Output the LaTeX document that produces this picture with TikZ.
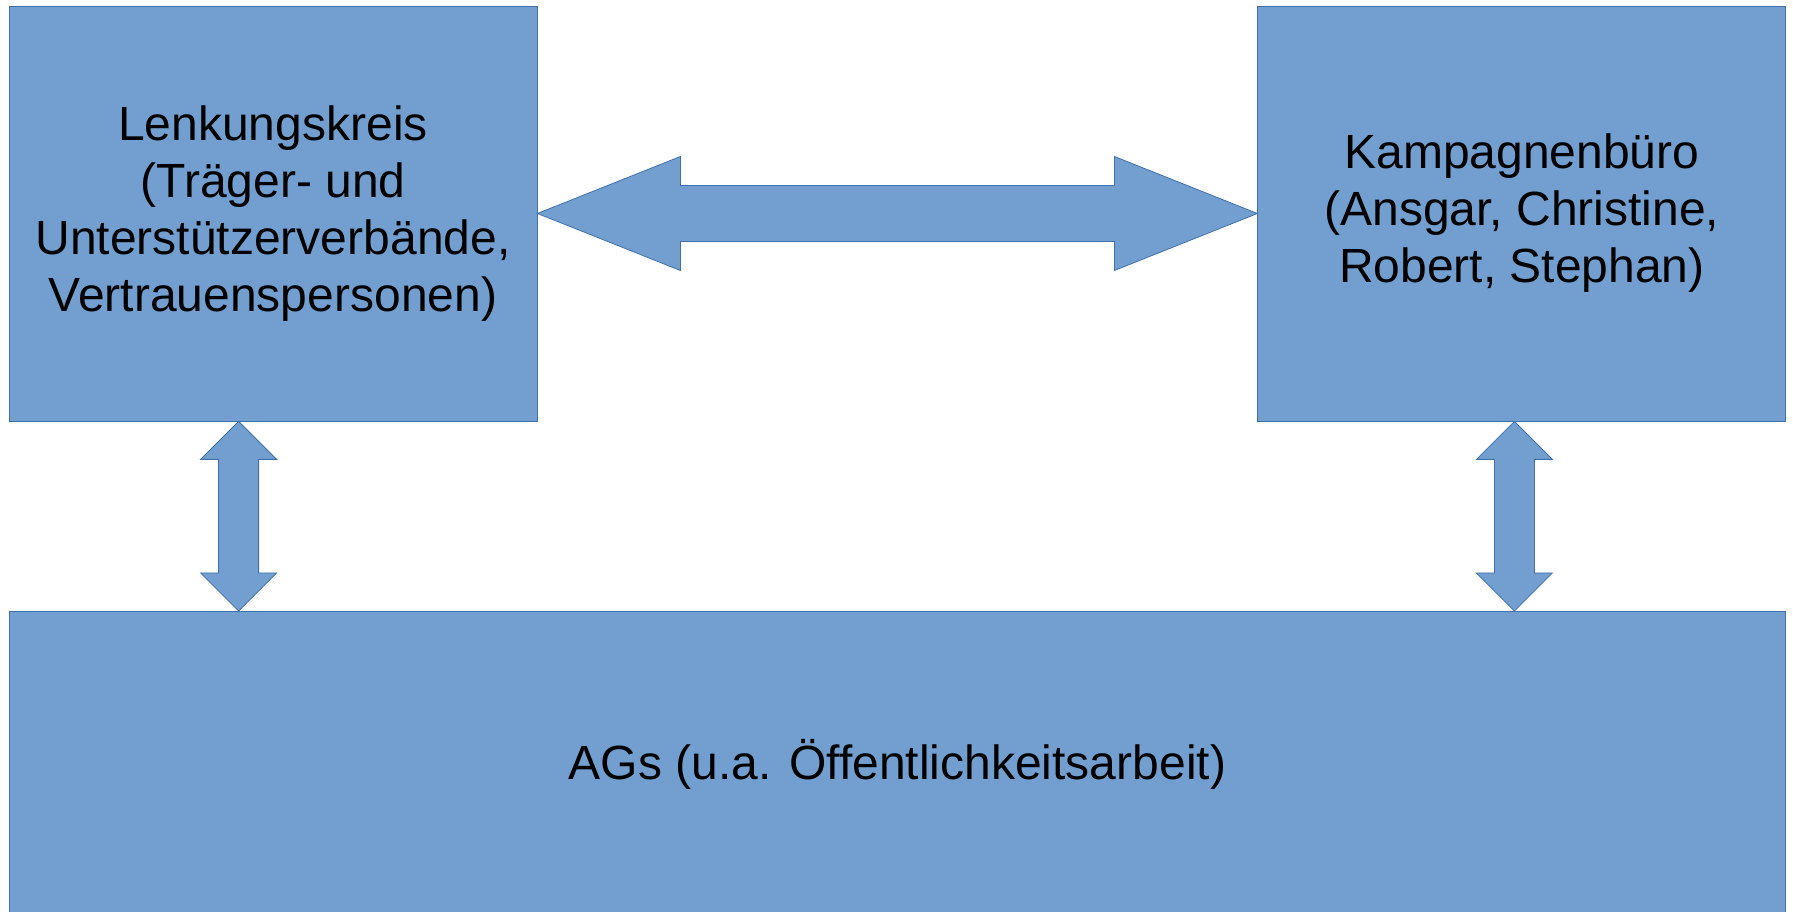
\documentclass[tikz,border=0pt]{standalone}
\usepackage{fontspec}
\setmainfont{Liberation Sans}
\usetikzlibrary{positioning,calc}
\definecolor{kastenblau}{RGB}{114,159,207}
\definecolor{randblau}{RGB}{65,113,170}
\tikzset{
  kasten/.style={rectangle,fill=kastenblau,draw=randblau,line width=0.8pt,inner sep=0pt,
    align=center,font=\fontsize{48}{57}\selectfont,minimum width=528pt,minimum height=415pt},
  pfeil/.style={fill=kastenblau,draw=randblau,line width=0.8pt,line join=miter}
}
\begin{document}
\begin{tikzpicture}[x=1pt,y=1pt]
\useasboundingbox (0,0) rectangle (1793,911);
\node[kasten] (lk) at (273,697.5) {Lenkungskreis\\(Träger- und\\Unterstützerverbände,\\Vertrauenspersonen)};
\node[kasten,right=720pt of lk] (kb) {Kampagnenbüro\\(Ansgar, Christine,\\Robert, Stephan)};
\node[kasten,anchor=north west,minimum width=1776pt,minimum height=305pt] (ag) at (9,300) {AGs (u.a. Öffentlichkeitsarbeit)};

% Doppelpfeil oben
\draw[pfeil] (lk.east) -- ++(143,57) -- ++(0,-29) -- ($(kb.west)+(-143,28)$) -- ++(0,29) -- (kb.west)
  -- ++(-143,-57) -- ++(0,29) -- ($(lk.east)+(143,-28)$) -- ++(0,-29) -- cycle;

% senkrechte Pfeile
\coordinate (lo) at ($(lk.south west)+(230,0)$);
\coordinate (lu) at (lo |- ag.north);
\coordinate (ro) at ($(kb.south west)+(257,0)$);
\coordinate (ru) at (ro |- ag.north);
\foreach \o/\u in {lo/lu,ro/ru}
  \draw[pfeil] (\o) -- ++(-38,-38) -- ++(18,0) -- ($(\u)+(-20,38)$) -- ++(-18,0) -- (\u)
    -- ++(38,38) -- ++(-18,0) -- ($(\o)+(20,-38)$) -- ++(18,0) -- cycle;
\end{tikzpicture}
\end{document}
